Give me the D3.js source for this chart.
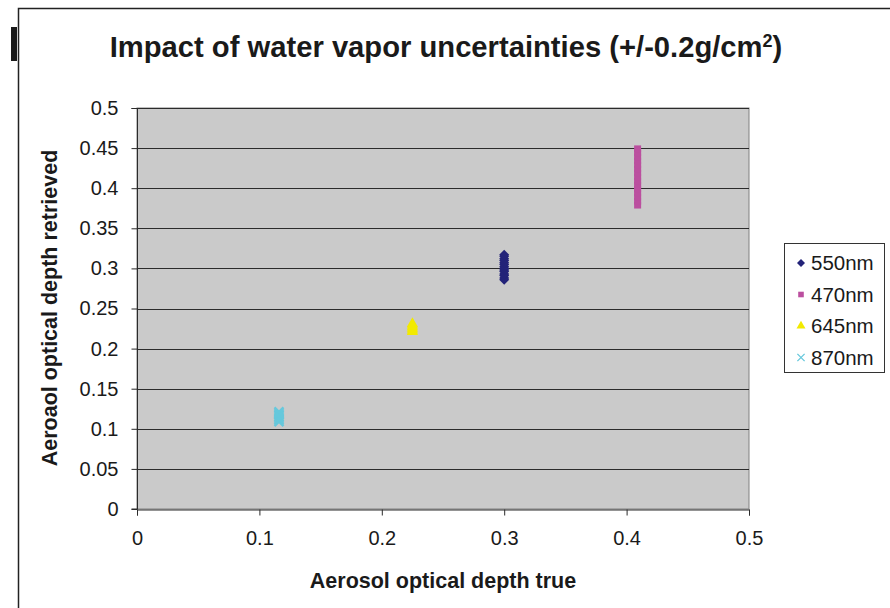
<!DOCTYPE html>
<html>
<head>
<meta charset="utf-8">
<script src="https://cdn.jsdelivr.net/npm/d3@7"></script>
<style>
  html, body { margin: 0; padding: 0; background: #fff; }
  svg { display: block; font-family: Arial, "Liberation Sans", sans-serif; }
</style>
</head>
<body>
<svg id="chart" width="890" height="608"></svg>
<script>
// Retrieved vs. true aerosol optical depth under +/-0.2 g/cm2 water vapor perturbation
const seriesNames = ["550nm", "470nm", "645nm", "870nm"];
const trueAOD = [0.300, 0.409, 0.225, 0.116];
const retrieved550 = [0.286, 0.288, 0.291, 0.293, 0.296, 0.298, 0.300, 0.302, 0.305, 0.307, 0.310, 0.312, 0.315, 0.317];
const retrieved470 = [0.379, 0.384, 0.389, 0.394, 0.399, 0.404, 0.409, 0.414, 0.419, 0.424, 0.429, 0.434, 0.439, 0.444, 0.449];
const retrieved645 = [0.221, 0.223, 0.225, 0.227, 0.229, 0.231];
const retrieved870 = [0.109, 0.111, 0.113, 0.115, 0.117, 0.119, 0.121];
const xTicks = [0, 0.1, 0.2, 0.3, 0.4, 0.5];
const yTicks = [0, 0.05, 0.1, 0.15, 0.2, 0.25, 0.3, 0.35, 0.4, 0.45, 0.5];
const colors = ["#232379", "#bb4f9f", "#f2ea00", "#66c8dc"];

const retrievedBySeries = [retrieved550, retrieved470, retrieved645, retrieved870];

const svg = d3.select("#chart");
const plot = { left: 137, right: 749, top: 108, bottom: 509 };
const FONT = "Arial, 'Liberation Sans', sans-serif";

// Outer chart frame (runs off the right and bottom edge)
svg.append("rect").attr("x", 18.5).attr("y", 8.5).attr("width", 900).attr("height", 700)
  .attr("fill", "none").attr("stroke", "#222").attr("stroke-width", 1.5);
svg.append("rect").attr("x", 11).attr("y", 27).attr("width", 6).attr("height", 34).attr("fill", "#1a1a1a");

const x = d3.scaleLinear().domain([0, 0.5]).range([plot.left, plot.right]);
const y = d3.scaleLinear().domain([0, 0.5]).range([plot.bottom, plot.top]);

// Plot background
svg.append("rect").attr("x", plot.left).attr("y", plot.top)
  .attr("width", plot.right - plot.left).attr("height", plot.bottom - plot.top)
  .attr("fill", "#cacaca").attr("stroke", "#808080").attr("stroke-width", 1);

// Horizontal gridlines
svg.append("g").selectAll("line").data(yTicks.filter(t => t > 0)).join("line")
  .attr("x1", plot.left).attr("x2", plot.right)
  .attr("y1", d => Math.round(y(d)) + 0.5).attr("y2", d => Math.round(y(d)) + 0.5)
  .attr("stroke", "#2b2b2b").attr("stroke-width", 1);

// Axes
const yAxis = d3.axisLeft(y).tickValues(yTicks).tickSize(6).tickPadding(13)
  .tickFormat(d => String(+d.toFixed(2)));
const xAxis = d3.axisBottom(x).tickValues(xTicks).tickSize(6).tickPadding(15)
  .tickFormat(d => String(+d.toFixed(1)));

const gy = svg.append("g").attr("transform", `translate(${plot.left + 0.5},0)`).call(yAxis);
const gx = svg.append("g").attr("transform", `translate(0,${plot.bottom + 0.5})`).call(xAxis);
[gx, gy].forEach(g => {
  g.select(".domain").attr("stroke", "#2b2b2b");
  g.selectAll(".tick line").attr("stroke", "#2b2b2b");
  g.selectAll(".tick text").attr("font-size", 20).attr("fill", "#1a1a1a").attr("font-family", FONT);
});
gy.select(".domain").attr("d", `M-6,${plot.top + 0.5}H0V${plot.bottom}H-6`);

// Marker drawers: diamond, square, triangle, x
const diamond = d3.symbol().type(d3.symbolSquare).size(50);
const square = d3.symbol().type(d3.symbolSquare).size(49);
const triangle = d3.symbol().type(d3.symbolTriangle).size(55);

function drawMarker(g, i, cx, cy, scale) {
  const s = scale || 1;
  if (i === 0) {
    g.append("path").attr("transform", `translate(${cx},${cy}) rotate(45) scale(${s})`)
      .attr("d", diamond()).attr("fill", colors[0]);
  } else if (i === 1) {
    g.append("path").attr("transform", `translate(${cx},${cy}) scale(${s})`)
      .attr("d", square()).attr("fill", colors[1]);
  } else if (i === 2) {
    g.append("path").attr("transform", `translate(${cx},${cy}) scale(${s})`)
      .attr("d", triangle()).attr("fill", colors[2]);
  } else {
    const h = 4.5 * s;
    g.append("path").attr("transform", `translate(${cx},${cy})`)
      .attr("d", `M${-h},${-h}L${h},${h}M${-h},${h}L${h},${-h}`)
      .attr("stroke", colors[3]).attr("stroke-width", s < 1 ? 1.3 : 2.4).attr("fill", "none");
  }
}

seriesNames.forEach((name, i) => {
  const g = svg.append("g").attr("class", "series-" + name);
  retrievedBySeries[i].forEach(v => drawMarker(g, i, x(trueAOD[i]), y(v)));
});

// Title
const title = svg.append("text").attr("x", 446).attr("y", 57).attr("text-anchor", "middle")
  .attr("font-size", 29.2).attr("font-weight", "bold").attr("fill", "#1a1a1a").attr("font-family", FONT);
title.append("tspan").text("Impact of water vapor uncertainties (+/-0.2g/cm");
title.append("tspan").attr("font-size", 18).attr("dy", -10).text("2");
title.append("tspan").attr("dy", 10).text(")");

// Axis titles
svg.append("text").attr("x", 443).attr("y", 588).attr("text-anchor", "middle")
  .attr("font-size", 21.5).attr("font-weight", "bold").attr("fill", "#1a1a1a").attr("font-family", FONT)
  .text("Aerosol optical depth true");
svg.append("text").attr("transform", "translate(57,308) rotate(-90)").attr("text-anchor", "middle")
  .attr("font-size", 21.5).attr("font-weight", "bold").attr("fill", "#1a1a1a").attr("font-family", FONT)
  .text("Aeroaol optical depth retrieved");

// Legend
const lg = svg.append("g");
lg.append("rect").attr("x", 784.5).attr("y", 243.5).attr("width", 100).attr("height", 129)
  .attr("fill", "#fff").attr("stroke", "#333").attr("stroke-width", 1);
seriesNames.forEach((name, i) => {
  const cy = 263 + i * 31.5;
  drawMarker(lg, i, 801, cy, 0.8);
  lg.append("text").attr("x", 811).attr("y", cy + 7).attr("font-size", 20.5)
    .attr("fill", "#1a1a1a").attr("font-family", FONT).text(name);
});
</script>
</body>
</html>
